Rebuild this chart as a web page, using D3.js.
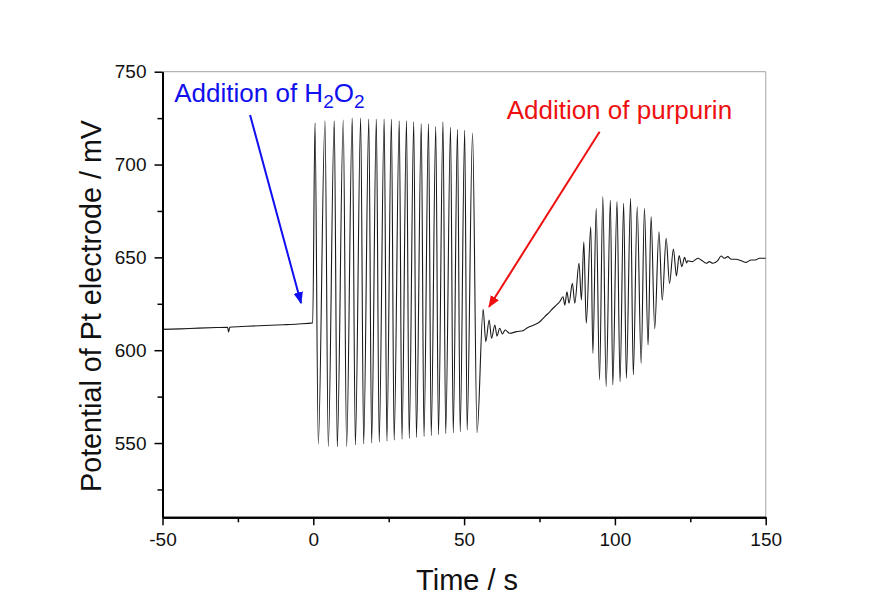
<!DOCTYPE html>
<html>
<head>
<meta charset="utf-8">
<script src="https://cdn.jsdelivr.net/npm/d3@7/dist/d3.min.js"></script>
<style>
  body { margin: 0; background: #fff; }
  svg { display: block; font-family: Arial, "Liberation Sans", sans-serif; }
</style>
</head>
<body>
<div id="chart"></div>
<script>
// ---- data (time in s, potential in mV) ----
var xMajor = [-50, 0, 50, 100, 150];
var xMinor = [-25, 25, 75, 125];
var yMajor = [550, 600, 650, 700, 750];
var yMinor = [525, 575, 625, 675, 725];

// slow drift before H2O2 is added
var preAddition = [[-50, 611.2], [-44, 611.5], [-38, 611.9], [-32, 612.2], [-28.4, 612.3],
  [-28.1, 609.8], [-27.7, 612.4], [-22, 612.9], [-16, 613.3], [-10, 613.7], [-5, 614.1], [-0.2, 614.7]];

// oscillations after H2O2
var oscPeakT = [0.56, 3.87, 6.95, 9.93, 12.91, 15.7, 18.4, 20.9, 23.5, 25.9, 28.5,
  30.9, 33.3, 35.8, 38.2, 40.6, 43.0, 45.5, 47.8, 50.2, 52.8];
var oscPeakV = [722.5, 723.5, 723.5, 724, 725, 725, 724.5, 724.5, 724.5, 724.5, 723.5,
  723.5, 723, 722, 722, 720.5, 723, 720, 719, 718.5, 717];
var oscTroughT = [1.66, 4.97, 7.95, 11.05, 13.95, 16.7, 19.35, 21.85, 24.4, 26.8, 29.4,
  31.8, 34.2, 36.7, 39.1, 41.5, 43.9, 46.4, 48.7, 51.0, 54.3];
var oscTroughV = [549.5, 548, 548, 548, 549, 549.5, 550, 550.5, 551, 551.5, 552,
  552.5, 553, 553.5, 554, 554.5, 555, 555.5, 556, 557, 555.5];

// after purpurin: damped ringing and slow rise
var recovery = [[56.3, 622], [57.2, 604.6], [58.3, 616.3], [59.1, 606.4], [60.2, 613.6],
  [60.9, 607.6], [61.8, 611.8], [62.7, 608.7], [63.6, 610.9], [65.1, 609.1], [67.4, 610],
  [69.5, 610.5], [70.7, 611.8], [71.8, 612.7], [73.5, 613.8], [75.1, 615.3], [76.7, 618],
  [78.4, 620.7], [79.5, 622.6], [80.6, 624.3], [81.7, 626.1]];

// second burst of oscillations
var burst = [[82.8, 628.8], [83.4, 624.3], [84.1, 631.5], [84.8, 625.3], [85.9, 636], [86.7, 625.3],
  [88.1, 646.8], [88.9, 627], [89.7, 658.4], [90.5, 614.5], [92.0, 666.5], [92.7, 598.3],
  [93.8, 676.4], [94.9, 584], [96.0, 682.7], [97.1, 580.4], [98.5, 680.9], [99.3, 581.3],
  [100.7, 680], [101.7, 583], [102.9, 679.1], [103.8, 584.9], [105.2, 681.8], [106.1, 586.7],
  [107.4, 677.3], [108.7, 592.9], [109.8, 676.4], [111.0, 602.8], [112.0, 671.9], [113.2, 611.5],
  [114.6, 663.8], [115.7, 627], [117.0, 660.3], [118.1, 636], [119.4, 654.5], [120.4, 640],
  [121.3, 651], [122.2, 645], [123.1, 650], [123.8, 647]];

// final plateau
var plateau = [[124.1, 648.2], [125.7, 647.7], [127.5, 649.5], [128.6, 648.6], [130.3, 646.8],
  [131.3, 647.7], [132.5, 646.8], [134.1, 648.2], [135.2, 650.7], [136.3, 649.5], [137.4, 650.4],
  [138.5, 649], [140.2, 649], [141.9, 648.2], [143.5, 647.3], [145.2, 648.6], [146.6, 648.6],
  [147.9, 649.5], [150, 649.5]];

// annotations: text anchor point, arrow from -> to (data units)
var h2o2Label = [-46.1, 733.5];
var h2o2Arrow = [[-20.96, 726.7], [-4.07, 625.4]];
var purpurinLabel = [64.1, 724.4];
var purpurinArrow = [[94.93, 717.7], [58.28, 623.4]];

// ---- layout ----
var W = 872, H = 613;
var margin = {top: 71.7, right: 106.3, bottom: 95.7, left: 162.5};
var width = W - margin.left - margin.right,
    height = H - margin.top - margin.bottom;

var svg = d3.select("#chart").append("svg")
  .attr("width", W).attr("height", H)
  .append("g")
  .attr("transform", "translate(" + margin.left + "," + margin.top + ")");

var x = d3.scaleLinear().domain([-50, 150]).range([0, width]);
var y = d3.scaleLinear().domain([510, 750]).range([height, 0]);

// merge oscillation extrema into one trace
var osc = [];
oscPeakT.forEach(function(t, i) {
  osc.push([t, oscPeakV[i]]);
  osc.push([oscTroughT[i], oscTroughV[i]]);
});
var trace = preAddition.concat(osc, recovery, burst, plateau);

// frame (top / right) in light grey
svg.append("line").attr("x1", 0).attr("x2", width).attr("y1", 0).attr("y2", 0)
  .attr("stroke", "#b4b4b4").attr("stroke-width", 1.2);
svg.append("line").attr("x1", width).attr("x2", width).attr("y1", 0).attr("y2", height)
  .attr("stroke", "#b4b4b4").attr("stroke-width", 1.2);

// trace
svg.append("path")
  .datum(trace)
  .attr("fill", "none")
  .attr("stroke", "#1a1a1a")
  .attr("stroke-width", 1.1)
  .attr("d", d3.line()
    .x(function(d) { return x(d[0]); })
    .y(function(d) { return y(d[1]); })
    .curve(d3.curveMonotoneX));

// axes
function styleAxis(g) {
  g.select(".domain").attr("stroke", "#000").attr("stroke-width", 2);
  g.selectAll(".tick line").attr("stroke", "#000").attr("stroke-width", 1.5);
  g.selectAll(".tick text").attr("font-size", 19).attr("fill", "#111")
    .attr("font-family", "Arial, 'Liberation Sans', sans-serif");
}
var plain = function(d) { return String(d); };

svg.append("g")
  .attr("transform", "translate(0," + height + ")")
  .call(d3.axisBottom(x).tickValues(xMajor).tickSize(8).tickSizeOuter(0).tickPadding(7)
    .tickFormat(plain))
  .call(styleAxis);
svg.append("g")
  .attr("transform", "translate(0," + height + ")")
  .call(d3.axisBottom(x).tickValues(xMinor).tickSize(5).tickSizeOuter(0).tickFormat(""))
  .call(styleAxis);

svg.append("g")
  .call(d3.axisLeft(y).tickValues(yMajor).tickSize(8).tickSizeOuter(0).tickPadding(8)
    .tickFormat(plain))
  .call(styleAxis);
svg.append("g")
  .call(d3.axisLeft(y).tickValues(yMinor).tickSize(5).tickSizeOuter(0).tickFormat(""))
  .call(styleAxis);

// axis titles
svg.append("text")
  .attr("x", width / 2 + 3)
  .attr("y", height + 72.5)
  .attr("text-anchor", "middle")
  .attr("font-size", 29)
  .attr("fill", "#111")
  .text("Time / s");

svg.append("text")
  .attr("transform", "rotate(-90)")
  .attr("x", -(306 - margin.top))
  .attr("y", -62)
  .attr("text-anchor", "middle")
  .attr("font-size", 29)
  .attr("textLength", 372)
  .attr("lengthAdjust", "spacingAndGlyphs")
  .attr("fill", "#111")
  .text("Potential of Pt electrode / mV");

// arrowheads
var defs = d3.select("svg").append("defs");
[["arrowBlue", "#1010ee"], ["arrowRed", "#ee1010"]].forEach(function(a) {
  defs.append("marker")
    .attr("id", a[0])
    .attr("viewBox", "0 0 10 10")
    .attr("refX", 9).attr("refY", 5)
    .attr("markerWidth", 6).attr("markerHeight", 6)
    .attr("markerUnits", "strokeWidth")
    .attr("orient", "auto")
    .append("path").attr("d", "M0,1 L10,5 L0,9 z").attr("fill", a[1]);
});

function annotate(label, arrow, color, marker, size) {
  svg.append("line")
    .attr("x1", x(arrow[0][0])).attr("y1", y(arrow[0][1]))
    .attr("x2", x(arrow[1][0])).attr("y2", y(arrow[1][1]))
    .attr("stroke", color).attr("stroke-width", 2)
    .attr("marker-end", "url(#" + marker + ")");
  return svg.append("text")
    .attr("x", x(label[0])).attr("y", y(label[1]))
    .attr("font-size", size)
    .attr("fill", color);
}

var t1 = annotate(h2o2Label, h2o2Arrow, "#1010ee", "arrowBlue", 26);
t1.append("tspan").text("Addition of H");
t1.append("tspan").attr("dy", 6).attr("font-size", 19).text("2");
t1.append("tspan").attr("dy", -6).text("O");
t1.append("tspan").attr("dy", 6).attr("font-size", 19).text("2");

var t2 = annotate(purpurinLabel, purpurinArrow, "#ee1010", "arrowRed", 26);
t2.text("Addition of purpurin");
</script>
</body>
</html>
